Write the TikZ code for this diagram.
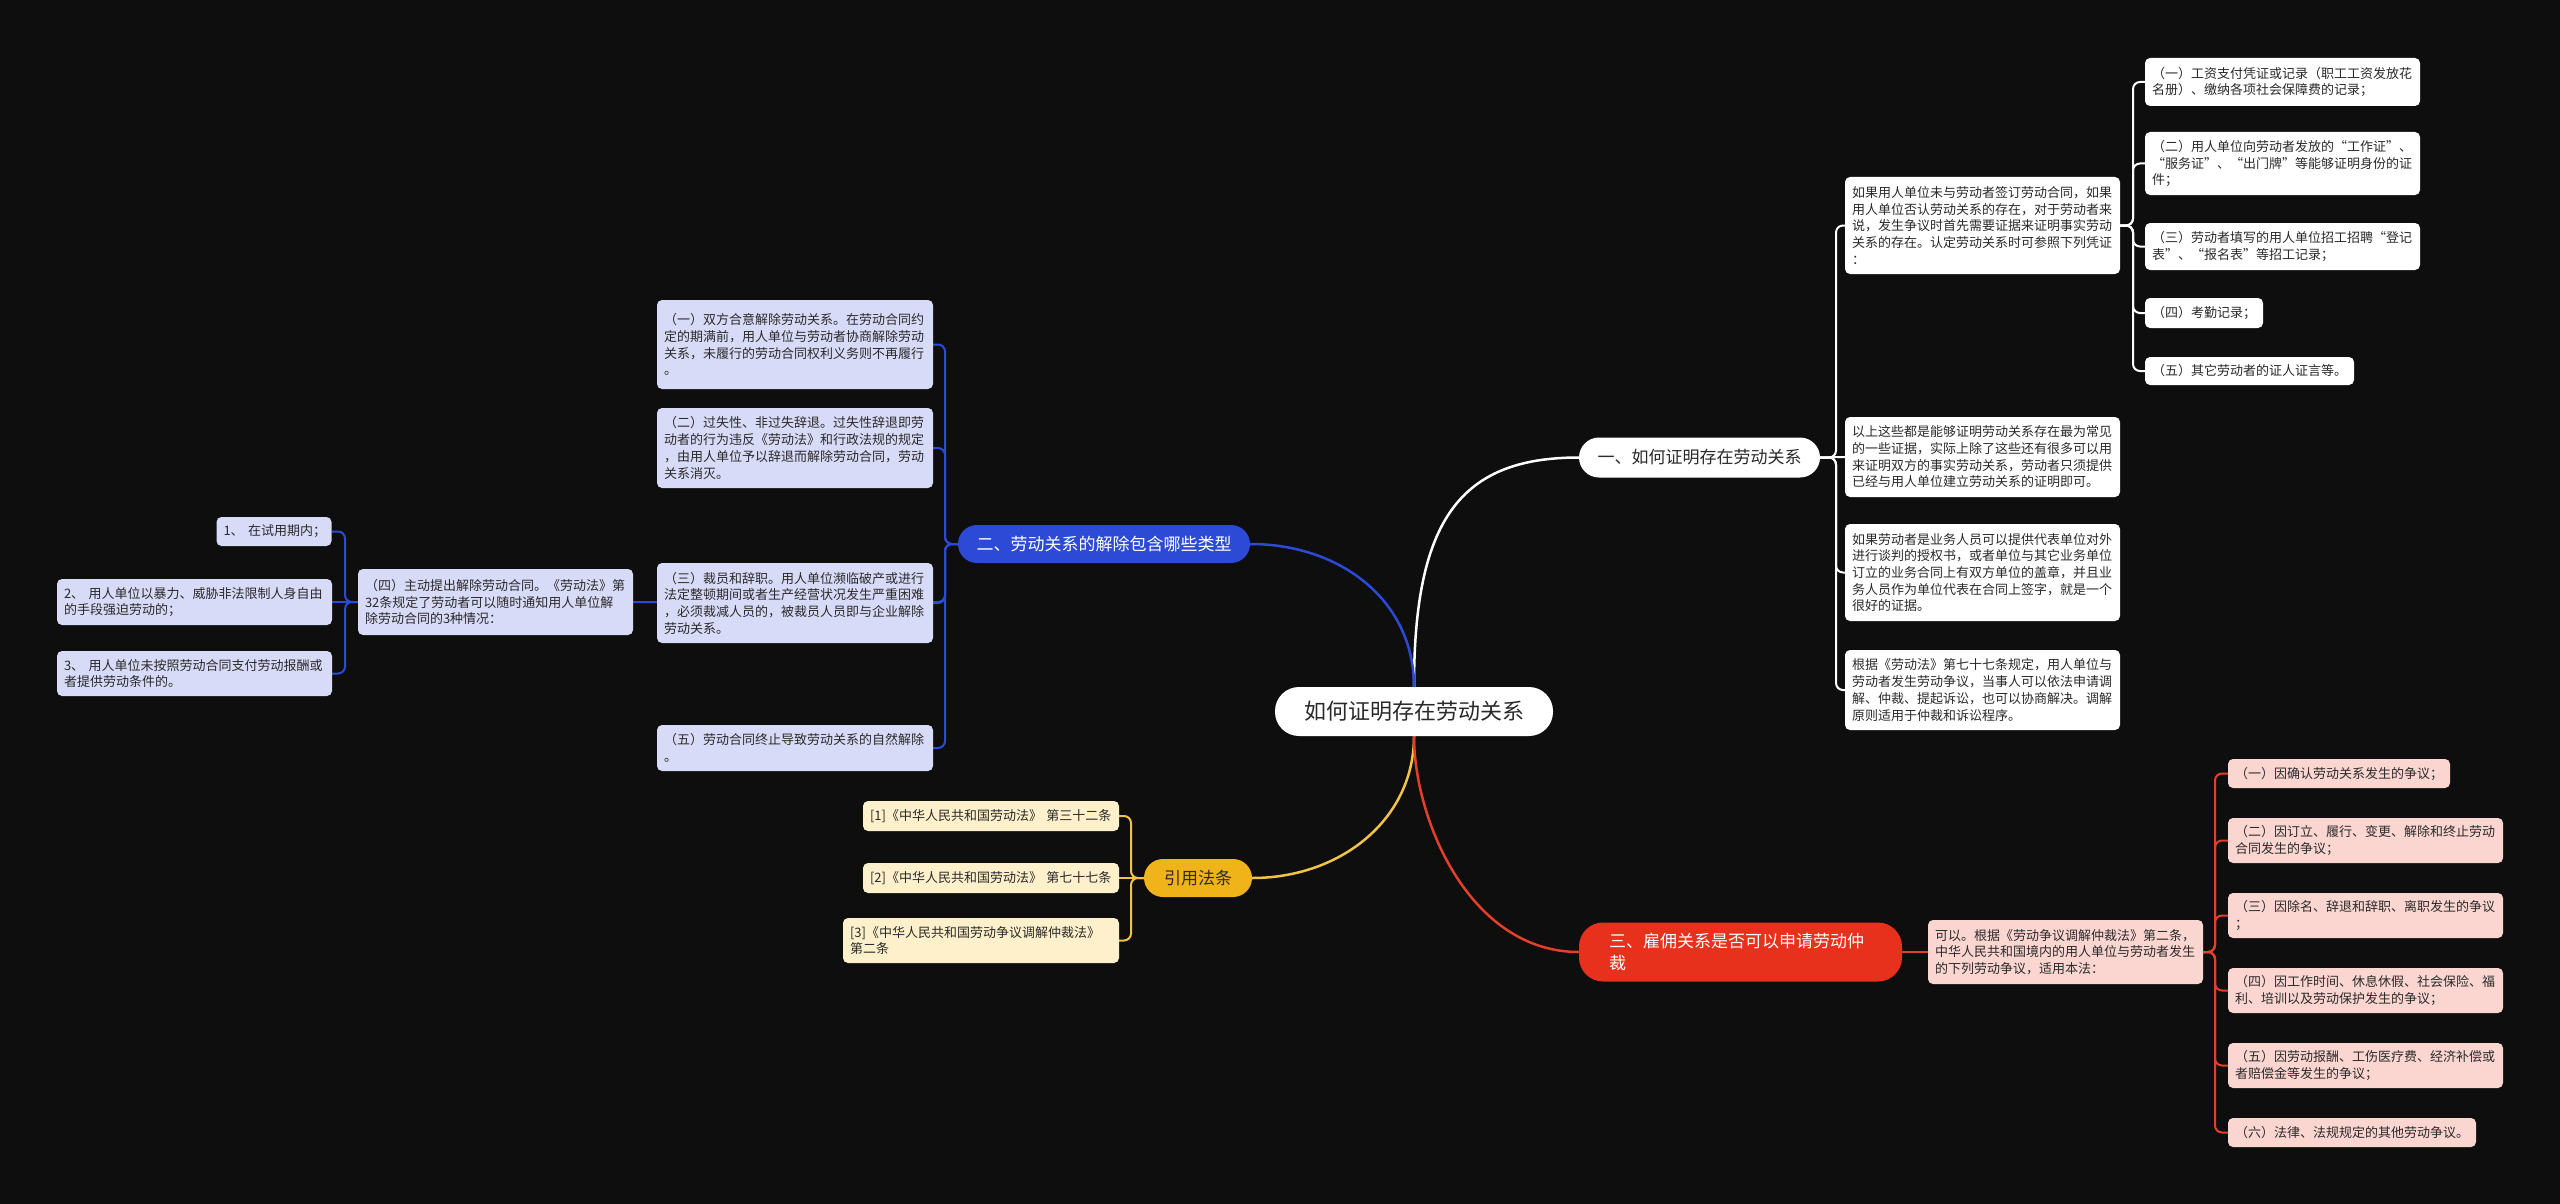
\documentclass[tikz,border=0pt]{standalone}
\usepackage{fontspec}
\setmainfont{Noto Sans CJK SC}

\definecolor{bg}{HTML}{0E0E0E}
\definecolor{leaftext}{HTML}{2A2A2A}
\definecolor{bluetopic}{HTML}{2D4AD6}
\definecolor{bluefill}{HTML}{D8DBF7}
\definecolor{yellowtopic}{HTML}{F0B41A}
\definecolor{yellowline}{HTML}{F2C445}
\definecolor{yellowfill}{HTML}{FDF0CA}
\definecolor{redtopic}{HTML}{E8311D}
\definecolor{redline}{HTML}{E2402B}
\definecolor{redfill}{HTML}{FBD6D1}

\newcommand{\leaffont}{\fontsize{13}{16.7}\selectfont}
\newcommand{\topicfont}{\fontsize{17}{22}\selectfont}
\newcommand{\rootfont}{\fontsize{22}{27}\selectfont}

\pgfdeclarelayer{canvas}
\pgfdeclarelayer{lines}
\pgfsetlayers{canvas,lines,main}

\begin{document}
\begin{tikzpicture}[
  x=1pt, y=-1pt,
  leafbox/.style={rounded corners=5pt, inner xsep=7pt, inner ysep=0pt, align=left,
    text=leaftext, font=\leaffont},
  whitebox/.style={leafbox, fill=white},
  bluebox/.style={leafbox, fill=bluefill},
  yellowbox/.style={leafbox, fill=yellowfill},
  pinkbox/.style={leafbox, fill=redfill},
  topicnode/.style={inner sep=0pt, font=\topicfont},
  mainline/.style={line width=2.5pt},
  bracket/.style={line width=2pt, rounded corners=7pt}
]
  \useasboundingbox (0,0) rectangle (2560,1204);
  \begin{pgfonlayer}{canvas}
    \fill[bg] (0,0) rectangle (2560,1204);
  \end{pgfonlayer}

  % centre and the four topics
  \node[fill=white, text=leaftext, font=\rootfont, inner sep=0pt, minimum width=278pt,
    minimum height=49pt, rounded corners=24pt] (root) at (1414,711.5) {如何证明存在劳动关系};
  \node[topicnode, fill=white, text=leaftext, minimum width=241pt, minimum height=40pt,
    rounded corners=20pt] (prove) at (1699.5,457.5) {一、如何证明存在劳动关系};
  \node[topicnode, fill=bluetopic, text=white, minimum width=292pt, minimum height=38pt,
    rounded corners=19pt] (cancel) at (1104,544) {二、劳动关系的解除包含哪些类型};
  \node[topicnode, fill=yellowtopic, text=leaftext, minimum width=108pt, minimum height=38pt,
    rounded corners=19pt] (laws) at (1198,878) {引用法条};
  \node[topicnode, fill=redtopic, text=white, text width=263pt, align=left, minimum width=323pt,
    minimum height=59pt, rounded corners=24pt] (arbit) at (1740.5,952)
    {三、雇佣关系是否可以申请劳动仲\\裁};

  % white branch
  \node[whitebox, text width=261pt, minimum height=97pt] (p1) at (1982.5,225.5)
    {如果用人单位未与劳动者签订劳动合同，如果\\用人单位否认劳动关系的存在，对于劳动者来\\说，发生争议时首先需要证据来证明事实劳动\\关系的存在。认定劳动关系时可参照下列凭证\\：};
  \node[whitebox, text width=261pt, minimum height=80pt] (p2) at (1982.5,457)
    {以上这些都是能够证明劳动关系存在最为常见\\的一些证据，实际上除了这些还有很多可以用\\来证明双方的事实劳动关系，劳动者只须提供\\已经与用人单位建立劳动关系的证明即可。};
  \node[whitebox, text width=261pt, minimum height=97pt] (p3) at (1982.5,572.5)
    {如果劳动者是业务人员可以提供代表单位对外\\进行谈判的授权书，或者单位与其它业务单位\\订立的业务合同上有双方单位的盖章，并且业\\务人员作为单位代表在合同上签字，就是一个\\很好的证据。};
  \node[whitebox, text width=261pt, minimum height=80pt] (p4) at (1982.5,690)
    {根据《劳动法》第七十七条规定，用人单位与\\劳动者发生劳动争议，当事人可以依法申请调\\解、仲裁、提起诉讼，也可以协商解决。调解\\原则适用于仲裁和诉讼程序。};

  \node[whitebox, text width=261pt, minimum height=48pt] (e1) at (2282.5,82)
    {（一）工资支付凭证或记录（职工工资发放花\\名册）、缴纳各项社会保障费的记录；};
  \node[whitebox, text width=261pt, minimum height=63pt] (e2) at (2282.5,163.5)
    {（二）用人单位向劳动者发放的“工作证”、\\“服务证”、“出门牌”等能够证明身份的证\\件；};
  \node[whitebox, text width=261pt, minimum height=47pt] (e3) at (2282.5,246.5)
    {（三）劳动者填写的用人单位招工招聘“登记\\表”、“报名表”等招工记录；};
  \node[whitebox, text width=104pt, minimum height=30pt] (e4) at (2204,313) {（四）考勤记录；};
  \node[whitebox, text width=195pt, minimum height=28pt] (e5) at (2249.5,371) {（五）其它劳动者的证人证言等。};

  % blue branch
  \node[bluebox, text width=262pt, minimum height=89pt] (c1) at (795,344.5)
    {（一）双方合意解除劳动关系。在劳动合同约\\定的期满前，用人单位与劳动者协商解除劳动\\关系，未履行的劳动合同权利义务则不再履行\\。};
  \node[bluebox, text width=262pt, minimum height=80pt] (c2) at (795,448)
    {（二）过失性、非过失辞退。过失性辞退即劳\\动者的行为违反《劳动法》和行政法规的规定\\，由用人单位予以辞退而解除劳动合同，劳动\\关系消灭。};
  \node[bluebox, text width=262pt, minimum height=80pt] (c3) at (795,603)
    {（三）裁员和辞职。用人单位濒临破产或进行\\法定整顿期间或者生产经营状况发生严重困难\\，必须裁减人员的，被裁员人员即与企业解除\\劳动关系。};
  \node[bluebox, text width=262pt, minimum height=46pt] (c5) at (795,748)
    {（五）劳动合同终止导致劳动关系的自然解除\\。};
  \node[bluebox, text width=261pt, minimum height=66pt] (c4) at (495.5,602)
    {（四）主动提出解除劳动合同。《劳动法》第\\32条规定了劳动者可以随时通知用人单位解\\除劳动合同的3种情况：};

  \node[bluebox, text width=101pt, minimum height=29pt] (k1) at (274,531.5) {1、~在试用期内；};
  \node[bluebox, text width=261pt, minimum height=46pt] (k2) at (194.5,602)
    {2、 用人单位以暴力、威胁非法限制人身自由\\的手段强迫劳动的；};
  \node[bluebox, text width=261pt, minimum height=45pt] (k3) at (194.5,673.5)
    {3、 用人单位未按照劳动合同支付劳动报酬或\\者提供劳动条件的。};

  % yellow branch
  \node[yellowbox, text width=242pt, minimum height=30pt] (law1) at (991,816)
    {[1]《中华人民共和国劳动法》 第三十二条};
  \node[yellowbox, text width=242pt, minimum height=30pt] (law2) at (991,878)
    {[2]《中华人民共和国劳动法》 第七十七条};
  \node[yellowbox, text width=262pt, minimum height=45pt] (law3) at (981,940.5)
    {[3]《中华人民共和国劳动争议调解仲裁法》\\第二条};

  % red branch
  \node[pinkbox, text width=261pt, minimum height=64pt] (yes) at (2065.5,952)
    {可以。根据《劳动争议调解仲裁法》第二条，\\中华人民共和国境内的用人单位与劳动者发生\\的下列劳动争议，适用本法：};
  \node[pinkbox, text width=208pt, minimum height=29pt] (d1) at (2339,773.5) {（一）因确认劳动关系发生的争议；};
  \node[pinkbox, text width=261pt, minimum height=45pt] (d2) at (2365.5,840.5)
    {（二）因订立、履行、变更、解除和终止劳动\\合同发生的争议；};
  \node[pinkbox, text width=261pt, minimum height=45pt] (d3) at (2365.5,915.5)
    {（三）因除名、辞退和辞职、离职发生的争议\\；};
  \node[pinkbox, text width=261pt, minimum height=45pt] (d4) at (2365.5,990.5)
    {（四）因工作时间、休息休假、社会保险、福\\利、培训以及劳动保护发生的争议；};
  \node[pinkbox, text width=261pt, minimum height=45pt] (d5) at (2365.5,1065.5)
    {（五）因劳动报酬、工伤医疗费、经济补偿或\\者赔偿金等发生的争议；};
  \node[pinkbox, text width=234pt, minimum height=29pt] (d6) at (2352,1132.5) {（六）法律、法规规定的其他劳动争议。};

  % connectors, behind the boxes
  \begin{pgfonlayer}{lines}
    \draw[mainline, white] (root.north) .. controls (1414,520) and (1460,457.5) .. (prove.west);
    \draw[mainline, bluetopic] (root.north) .. controls (1414,600) and (1340,544) .. (cancel.east);
    \draw[mainline, yellowline] (root.south) .. controls (1414,820) and (1340,878) .. (laws.east);
    \draw[mainline, redline] (root.south) .. controls (1414,820) and (1470,952) .. (arbit.west);

    \foreach \n in {p1,p3,p4}
      \draw[bracket, white] (prove.east) -- (1836,457.5) |- (\n.west);
    \draw[bracket, white] (prove.east) -- (p2.west);
    \foreach \n in {e1,e2,e3,e4,e5}
      \draw[bracket, white] (p1.east) -- (2133,225.5) |- (\n.west);

    \foreach \n in {c1,c2,c3,c5}
      \draw[bracket, bluetopic] (cancel.west) -- (945,544) |- (\n.east);
    \draw[bracket, bluetopic] (cancel.west) -- (945,544) |- (c4.east);
    \foreach \n in {k1,k3}
      \draw[bracket, bluetopic] (c4.west) -- (345,602) |- (\n.east);
    \draw[bracket, bluetopic] (c4.west) -- (k2.east);

    \foreach \n in {law1,law3}
      \draw[bracket, yellowline] (laws.west) -- (1131,878) |- (\n.east);
    \draw[bracket, yellowline] (laws.west) -- (law2.east);

    \draw[bracket, redline] (arbit.east) -- (yes.west);
    \foreach \n in {d1,d2,d3,d4,d5,d6}
      \draw[bracket, redline] (yes.east) -- (2215,952) |- (\n.west);
  \end{pgfonlayer}
\end{tikzpicture}
\end{document}
